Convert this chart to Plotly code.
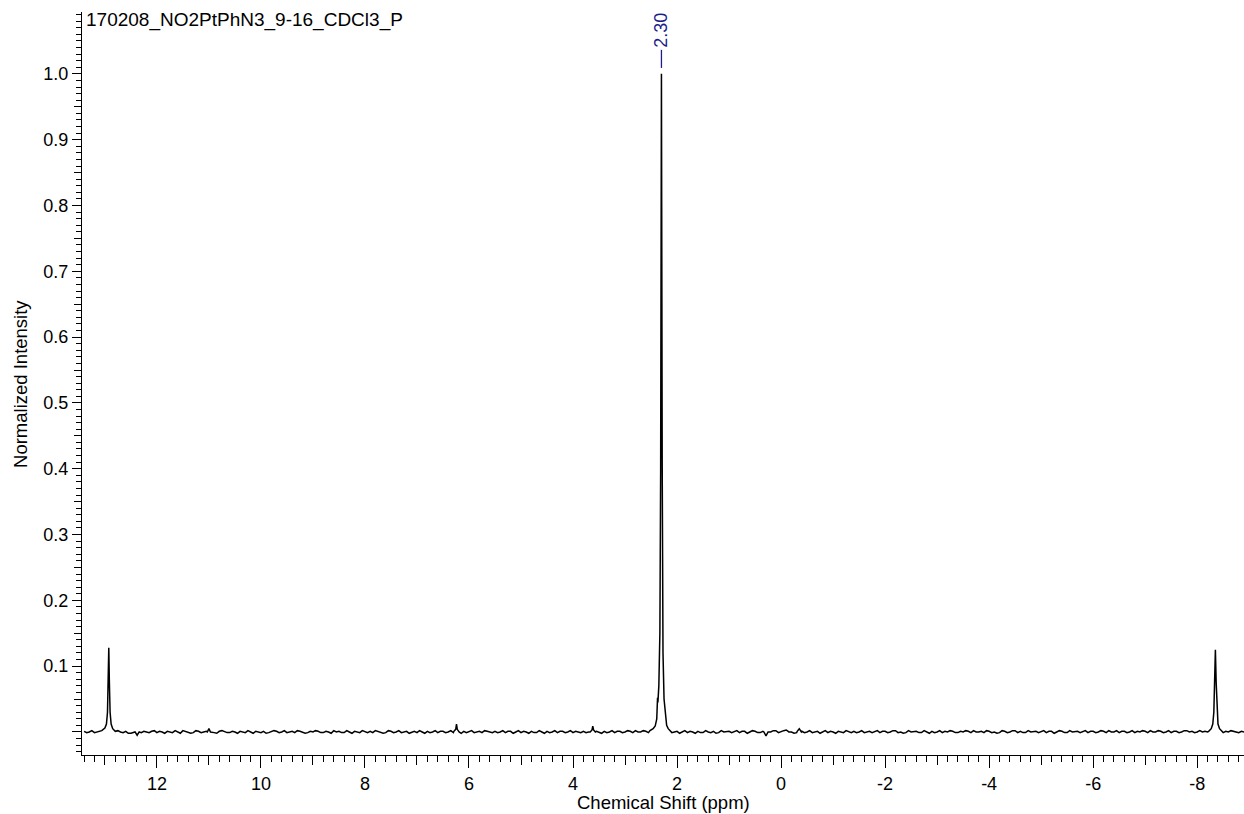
import numpy as np
import plotly.graph_objects as go

# ---------------- data ----------------
spectrum_title = "170208_NO2PtPhN3_9-16_CDCl3_P"
x_title = "Chemical Shift (ppm)"
y_title = "Normalized Intensity"

# baseline (noise) read at 0.1 ppm steps from 13.4 down to -8.9 ppm, in units of 0.001
baseline_start_ppm = 13.4
baseline_step_ppm = 0.1
baseline_milli = [
    1, 0, -1, 1, 2, 0, -1, 0, 1, -2, -3, -1, 0, 1, -1, 0,
    1, -1, 0, 2, 0, -1, 1, 0, -2, -1, 1, 0, -1, 0, 1, -1,
    0, 1, -1, -2, 0, 1, 0, -1, 1, 2, 0, -1, 0, 1, -1, 0,
    2, 1, -1, 0, 1, -1, 0, 1, 2, 0, -1, 1, 0, -1, 1, 0,
    -1, 0, 1, 0, -1, 1, 0, -1, 0, 1, 0, -1, 1, 2, 0, 1,
    0, -1, 1, 0, -1, 0, 1, -1, 0, 1, 0, -1, 1, 0, -1, 0,
    1, 0, -1, 0, 1, 0, -1, 1, 0, 1, 2, 0, 1, 0, 0, 0,
    0, -1, 1, 0, -1, 0, 1, -1, 0, 1, -1, 0, 1, 0, -1, 1,
    0, 1, -1, -3, 0, 2, 1, 3, 0, -1, 1, 0, -1, 1, 0, -1,
    0, 1, -1, 0, 1, 0, -1, 1, 0, -1, 1, 0, 2, 0, -1, 0,
    1, -1, 0, 1, 0, -1, 0, 1, -1, 0, 1, 2, 0, -1, 1, 0,
    -1, 1, 0, 2, 1, -1, 0, 1, 0, -1, 1, 0, 1, -1, 0, 1,
    0, -1, 1, 0, 1, 2, 0, -1, 1, 0, -1, 0, 1, 2, 0, 1,
    0, -1, 1, 0, 2, 1, 0, 0, 0, 0, 1, -1, 0, 1, -1, 0,
]
# noise read half-way between the points above (13.35 down to -8.85 ppm), units of 0.001
baseline_mid_start_ppm = 13.35
baseline_mid_milli = [
    -1, 2, 0, -2, 1, -1, 2, -1, -2, 0, -2, 1, -1, 2, 1, -2,
    0, 2, -2, 1, -2, 2, -1, 1, 0, -2, 2, -1, 1, -2, 0, 2,
    -2, 0, 1, -1, 2, -1, 2, 0, -1, 1, -2, 1, 2, -1, 1, -2,
    0, -1, 2, -2, 0, 2, -1, -1, 1, -2, 2, -1, 2, 0, -2, 1,
    2, -2, -1, 2, 1, -1, 2, 1, -2, -1, 2, 0, -1, 1, -1, -1,
    2, 1, -2, 2, 1, -2, -1, 2, -2, -1, 2, 1, -1, 2, 1, -1,
    -1, 2, 1, -2, -1, 2, 1, -1, 2, -1, 0, 2, -1, 1, -1, 1,
    2, 0, -2, 2, 1, -2, -1, 2, -1, -2, 2, 1, -1, 2, 1, -2,
    2, -1, 1, -1, 2, -1, 2, 0, -2, 1, -1, 2, 0, -2, 2, 1,
    -2, 0, 2, -1, -1, 2, 0, -1, 2, 1, -1, 2, -1, -2, 2, 1,
    -1, 2, -2, -1, 2, 1, 2, -1, 1, 2, -1, 0, 1, 2, -1, -2,
    2, -1, 2, -1, -1, 2, 1, -1, 2, 1, -2, 2, -1, 2, 1, -1,
    2, 1, -1, 2, -1, 0, 2, 1, -1, 2, 1, 2, -1, 0, 2, -1,
    2, 1, -1, 2, 0, -1, 2, 1, -1, 2, -1, 1, 2, -1, 1,
]

# peak regions: (ppm, normalized intensity)
peak_1292_ppm = [13.06, 13.00, 12.97, 12.95, 12.935, 12.925, 12.915, 12.90, 12.88, 12.85, 12.80]
peak_1292_int = [0.002, 0.006, 0.012, 0.030, 0.080, 0.128, 0.080, 0.030, 0.012, 0.005, 0.001]

dip_1238_ppm = [12.42, 12.38, 12.34]
dip_1238_int = [0.000, -0.005, 0.000]

bump_1100_ppm = [11.03, 11.00, 10.97]
bump_1100_int = [0.000, 0.005, 0.000]

peak_624_ppm = [6.29, 6.255, 6.24, 6.225, 6.19]
peak_624_int = [0.001, 0.004, 0.012, 0.004, 0.000]

peak_362_ppm = [3.67, 3.635, 3.62, 3.605, 3.57]
peak_362_int = [0.000, 0.003, 0.009, 0.003, 0.000]

peak_230_ppm = [2.52, 2.46, 2.42, 2.39, 2.375, 2.368, 2.35, 2.33, 2.315, 2.305, 2.300,
                2.295, 2.285, 2.27, 2.25, 2.235, 2.228, 2.22, 2.20, 2.17, 2.12]
peak_230_int = [0.002, 0.005, 0.009, 0.020, 0.052, 0.045, 0.070, 0.150, 0.400, 0.800, 1.000,
                0.800, 0.400, 0.120, 0.050, 0.034, 0.033, 0.020, 0.010, 0.005, 0.001]

dip_029_ppm = [0.33, 0.29, 0.25]
dip_029_int = [0.000, -0.006, 0.000]

bump_m035_ppm = [-0.31, -0.35, -0.39]
bump_m035_int = [0.001, 0.005, 0.000]

peak_m835_ppm = [-8.22, -8.27, -8.30, -8.32, -8.335, -8.35, -8.365, -8.38, -8.40, -8.43, -8.48]
peak_m835_int = [0.001, 0.005, 0.012, 0.030, 0.075, 0.125, 0.075, 0.030, 0.012, 0.005, 0.001]

peak_labels = [2.30]

x_tick_vals = [12, 10, 8, 6, 4, 2, 0, -2, -4, -6, -8]
x_tick_text = ["12", "10", "8", "6", "4", "2", "0", "-2", "-4", "-6", "-8"]
x_mid_tick_vals = [13, 11, 9, 7, 5, 3, 1, -1, -3, -5, -7]
y_tick_vals = [0.0, 0.1, 0.2, 0.3, 0.4, 0.5, 0.6, 0.7, 0.8, 0.9, 1.0]
y_tick_text = ["", "0.1", "0.2", "0.3", "0.4", "0.5", "0.6", "0.7", "0.8", "0.9", "1.0"]
y_mid_tick_vals = [0.05, 0.15, 0.25, 0.35, 0.45, 0.55, 0.65, 0.75, 0.85, 0.95]

# ---------------- assemble spectrum ----------------
base_ppm_a = np.round(baseline_start_ppm - baseline_step_ppm * np.arange(len(baseline_milli)), 3)
base_ppm_b = np.round(baseline_mid_start_ppm - baseline_step_ppm * np.arange(len(baseline_mid_milli)), 3)
base_ppm = np.concatenate([base_ppm_a, base_ppm_b])
base_int = np.concatenate([np.array(baseline_milli, dtype=float),
                           np.array(baseline_mid_milli, dtype=float)]) / 1000.0

regions = [
    (peak_1292_ppm, peak_1292_int), (dip_1238_ppm, dip_1238_int), (bump_1100_ppm, bump_1100_int),
    (peak_624_ppm, peak_624_int), (peak_362_ppm, peak_362_int), (peak_230_ppm, peak_230_int),
    (dip_029_ppm, dip_029_int), (bump_m035_ppm, bump_m035_int), (peak_m835_ppm, peak_m835_int),
]
keep = np.ones(len(base_ppm), dtype=bool)
for p, _ in regions:
    keep &= ~((base_ppm >= min(p)) & (base_ppm <= max(p)))
all_ppm = list(base_ppm[keep])
all_int = list(base_int[keep])
for p, i in regions:
    all_ppm += list(p)
    all_int += list(i)
order = np.argsort(all_ppm)[::-1]
ppm = np.array(all_ppm)[order]
inten = np.array(all_int)[order]

# ---------------- figure ----------------
FONT = "Liberation Sans, Arial, sans-serif"
LABEL_COLOR = "#1c1c8a"
x_range = [13.44, -8.90]
y_range = [-0.035, 1.094]

fig = go.Figure()
fig.add_trace(go.Scatter(x=ppm, y=inten, mode="lines",
                         line=dict(color="black", width=1.5), hoverinfo="skip"))
fig.add_trace(go.Scatter(x=[], y=[], xaxis="x2", yaxis="y2", hoverinfo="skip"))

common = dict(showgrid=False, zeroline=False, ticks="outside", tickcolor="black", tickwidth=1)

fig.update_layout(
    width=1244, height=814,
    margin=dict(l=82, r=0, t=12, b=59),
    paper_bgcolor="white", plot_bgcolor="white",
    showlegend=False,
    font=dict(family=FONT, size=18, color="black"),
    xaxis=dict(range=x_range, tickmode="array", tickvals=x_tick_vals, ticktext=x_tick_text,
               ticklen=12, showline=True, linecolor="black", linewidth=1,
               tickfont=dict(family=FONT, size=18, color="black"),
               minor=dict(ticks="outside", tickmode="linear", tick0=0, dtick=0.2,
                          ticklen=6, tickcolor="black", tickwidth=1, showgrid=False),
               **common),
    xaxis2=dict(range=x_range, overlaying="x", anchor="y", side="bottom",
                tickmode="array", tickvals=x_mid_tick_vals, ticklen=9,
                showticklabels=False, showline=False, **common),
    yaxis=dict(range=y_range, tickmode="array", tickvals=y_tick_vals, ticktext=y_tick_text,
               ticklen=9, showline=True, linecolor="black", linewidth=1,
               tickfont=dict(family=FONT, size=18, color="black"),
               minor=dict(ticks="outside", tickmode="linear", tick0=0, dtick=0.01,
                          ticklen=5, tickcolor="black", tickwidth=1, showgrid=False),
               **common),
    yaxis2=dict(range=y_range, overlaying="y", anchor="x", side="left",
                tickmode="array", tickvals=y_mid_tick_vals, ticklen=7,
                showticklabels=False, showline=False, **common),
)

fig.add_annotation(text=spectrum_title, xref="paper", yref="paper", x=0, y=0.989,
                   xanchor="left", yanchor="middle", xshift=2, showarrow=False,
                   font=dict(family=FONT, size=19, color="black"))
fig.add_annotation(text=y_title, xref="paper", yref="paper", x=-0.0534, y=0.4993,
                   xanchor="center", yanchor="middle", textangle=-90, showarrow=False,
                   font=dict(family=FONT, size=18.5, color="black"))
fig.add_annotation(text=x_title, xref="paper", yref="paper", x=0.5, y=-0.0646,
                   xanchor="center", yanchor="middle", showarrow=False,
                   font=dict(family=FONT, size=18.5, color="black"))

for lbl in peak_labels:
    fig.add_annotation(text=f"{lbl:.2f}", xref="x", yref="y", x=lbl, y=1.066,
                       xanchor="center", yanchor="middle", textangle=-90, showarrow=False,
                       font=dict(family=FONT, size=18, color=LABEL_COLOR))
    fig.add_shape(type="line", xref="x", yref="y", x0=lbl, x1=lbl, y0=1.009, y1=1.0365,
                  line=dict(color=LABEL_COLOR, width=1.3))

fig.write_html("out.html")
